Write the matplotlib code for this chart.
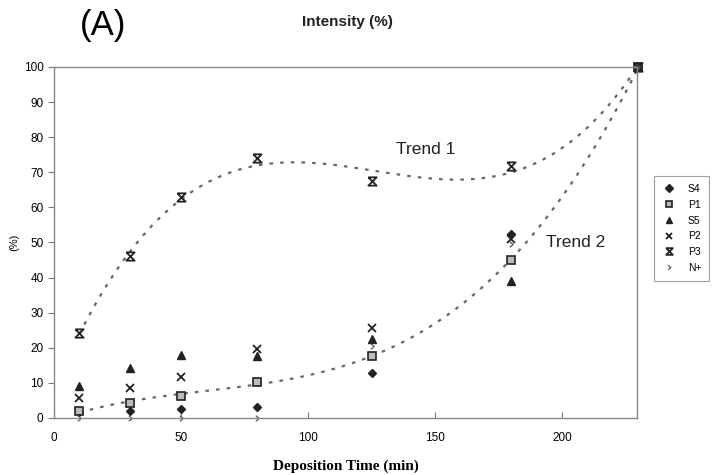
import numpy as np
import matplotlib
matplotlib.use("Agg")
import matplotlib.pyplot as plt
from matplotlib.path import Path

# deposition times (min)
times = [10, 30, 50, 80, 125, 180, 230]

# intensity (%) per peak
s4 = [1.7, 2.0, 2.6, 3.1, 12.8, 52.4, 100]
p1 = [2.0, 4.3, 6.3, 10.3, 17.7, 45.0, 100]
s5 = [9.1, 14.2, 18.0, 17.7, 22.5, 39.0, 100]
p2 = [5.7, 8.5, 11.7, 19.7, 25.6, 51.0, 100]
p3 = [24.2, 46.2, 63.0, 74.0, 67.5, 71.8, 100]
n_plus = [0.0, 0.0, 0.0, 0.0, 20.5, 49.6, 100]

plt.rcParams['font.family'] = ['Liberation Sans', 'DejaVu Sans']

# hourglass and chevron markers
hourglass = Path([(-1, 1), (1, 1), (-1, -1), (1, -1), (-1, 1)])
chevron = Path([(-0.6, 1), (0.6, 0), (-0.6, -1)],
               [Path.MOVETO, Path.LINETO, Path.LINETO])

fig = plt.figure(figsize=(7.23, 4.75), dpi=100)
ax = fig.add_axes([0.0747, 0.12, 0.8065, 0.739])

# polynomial trend lines (3rd order), like the spreadsheet trendlines
xs = np.linspace(10, 230, 200)
trend1 = np.polyval(np.polyfit(times, p3, 3), xs)
trend2 = np.polyval(np.polyfit(times, p1, 3), xs)
ax.plot(xs, trend1, color="#666666", lw=1.6, dashes=(1.6, 3.2), clip_on=False)
ax.plot(xs, trend2, color="#666666", lw=1.6, dashes=(1.6, 3.2), clip_on=False)

common = dict(ls='none', clip_on=False)
ax.plot(times, s4, 'D', ms=4.5, color="#222222", label="S4", **common)
ax.plot(times, p1, 's', ms=6, mfc="#bbbbbb", mec="#222222", mew=1.2,
        label="P1", **common)
ax.plot(times, s5, '^', ms=6, color="#222222", label="S5", **common)
ax.plot(times, p2, 'x', ms=6, mew=1.3, color="#222222", label="P2", **common)
ax.plot(times, p3, marker=hourglass, ms=6, mfc='none', mec="#222222", mew=1.3,
        label="P3", **common)
ax.plot(times, n_plus, marker=chevron, ms=4, mfc='none', mec="#555555",
        mew=0.9, label="N+", **common)

ax.text(134.5, 76.5, "Trend 1", fontsize=12.5, color="#222222", va='center')
ax.text(193.5, 50, "Trend 2", fontsize=12.5, color="#222222", va='center')

ax.set_xlim(0, 229.5)
ax.set_ylim(0, 100)
ax.set_xticks([0, 50, 100, 150, 200])
ax.set_yticks(range(0, 101, 10))
ax.tick_params(axis='x', direction='in', length=4, labelsize=8.5, pad=10,
               color="#777777")
ax.tick_params(axis='y', direction='out', length=4, labelsize=8.5,
               color="#777777")
for sp in ax.spines.values():
    sp.set_color("#888888")
    sp.set_linewidth(1.0)

ax.set_ylabel("(%)", fontsize=8, labelpad=3)
ax.set_xlabel("Deposition Time (min)", fontsize=11, fontweight='bold',
              family=['Liberation Serif', 'DejaVu Serif'], labelpad=11)

fig.text(0.481, 0.953, "Intensity (%)", ha='center', va='center',
         fontsize=11, fontweight='bold', color="#222222")
fig.text(0.142, 0.947, "(A)", ha='center', va='center', fontsize=25)

leg = fig.legend(loc='upper left', bbox_to_anchor=(0.905, 0.63),
                 fontsize=7.5, frameon=True, fancybox=False, handlelength=1.2,
                 handletextpad=1.2, borderpad=0.8, labelspacing=0.55,
                 borderaxespad=0, markerscale=0.8)
leg.get_frame().set_edgecolor("#888888")
leg.get_frame().set_linewidth(0.8)

fig.savefig("out.png", dpi=100)
